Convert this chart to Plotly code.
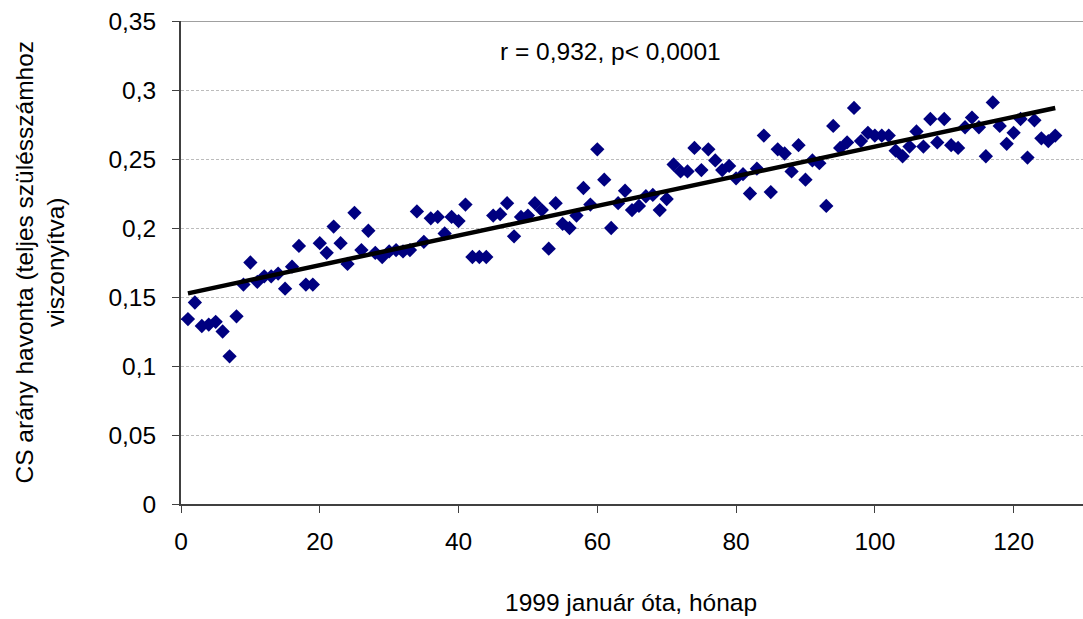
import numpy as np
import plotly.graph_objects as go

# Months elapsed since January 1999
months = list(range(1, 127))

# Monthly caesarean-section rate (share of all deliveries)
cs_rate = [
    0.134, 0.146, 0.129, 0.130, 0.132, 0.125, 0.107, 0.136, 0.159, 0.175,
    0.161, 0.165, 0.165, 0.167, 0.156, 0.172, 0.187, 0.159, 0.159, 0.189,
    0.182, 0.201, 0.189, 0.174, 0.211, 0.184, 0.198, 0.182, 0.179, 0.183,
    0.184, 0.183, 0.184, 0.212, 0.190, 0.207, 0.208, 0.196, 0.208, 0.205,
    0.217, 0.179, 0.179, 0.179, 0.209, 0.210, 0.218, 0.194, 0.208, 0.209,
    0.218, 0.213, 0.185, 0.218, 0.203, 0.200, 0.209, 0.229, 0.217, 0.257,
    0.235, 0.200, 0.218, 0.227, 0.213, 0.216, 0.223, 0.224, 0.213, 0.221,
    0.246, 0.241, 0.241, 0.258, 0.242, 0.257, 0.249, 0.242, 0.245, 0.236,
    0.239, 0.225, 0.243, 0.267, 0.226, 0.257, 0.254, 0.241, 0.260, 0.235,
    0.249, 0.247, 0.216, 0.274, 0.258, 0.262, 0.287, 0.263, 0.269, 0.267,
    0.267, 0.267, 0.256, 0.252, 0.259, 0.270, 0.259, 0.279, 0.262, 0.279,
    0.260, 0.258, 0.273, 0.280, 0.273, 0.252, 0.291, 0.274, 0.261, 0.269,
    0.279, 0.251, 0.278, 0.265, 0.263, 0.267,
]

x_ticks = [0, 20, 40, 60, 80, 100, 120]
y_ticks = [0, 0.05, 0.1, 0.15, 0.2, 0.25, 0.3, 0.35]

stat_label = "r = 0,932, p< 0,0001"
x_title = "1999 január óta, hónap"
y_title = "CS arány havonta (teljes szülésszámhoz<br>viszonyítva)"

# Least-squares linear trend
slope, intercept = np.polyfit(months, cs_rate, 1)
trend_x = [months[0], months[-1]]
trend_y = [intercept + slope * v for v in trend_x]

FONT = "Liberation Sans, Arial, sans-serif"
FS = 24.5

fig = go.Figure()
fig.add_trace(go.Scatter(
    x=months, y=cs_rate, mode="markers",
    marker=dict(symbol="diamond", size=11, color="#000080",
                line=dict(width=0)),
    showlegend=False,
))
fig.add_trace(go.Scatter(
    x=trend_x, y=trend_y, mode="lines",
    line=dict(color="black", width=4.5),
    showlegend=False,
))

# solid top border of the plot area
fig.add_shape(type="line", xref="paper", yref="y", x0=0, x1=1,
              y0=0.35, y1=0.35, line=dict(color="#808080", width=1.5))

text_font = dict(size=FS, color="black", family=FONT)
fig.add_annotation(text=stat_label, xref="paper", yref="paper",
                   x=(610 - 181) / 902, y=(504 - 51) / 483,
                   xanchor="center", yanchor="middle",
                   showarrow=False, font=text_font)
fig.add_annotation(text=x_title, xref="paper", yref="paper",
                   x=(631 - 181) / 902, y=-(602 - 504) / 483,
                   xanchor="center", yanchor="middle",
                   showarrow=False, font=text_font)
fig.add_annotation(text=y_title, xref="paper", yref="paper",
                   x=-(181 - 40) / 902, y=0.5, textangle=-90,
                   xanchor="center", yanchor="middle",
                   showarrow=False, font=text_font)

fig.update_layout(
    width=1083, height=619,
    margin=dict(l=181, r=0, t=21, b=115),
    paper_bgcolor="white", plot_bgcolor="white",
    separators=", ",
    font=dict(family=FONT, size=FS, color="black"),
    xaxis=dict(
        range=[0, 130], tickvals=x_ticks, ticks="outside", ticklen=7,
        tickcolor="#404040", showline=True, linecolor="#404040", linewidth=2,
        showgrid=False, zeroline=False, ticklabelstandoff=8,
    ),
    yaxis=dict(
        range=[0, 0.35], tickvals=y_ticks, ticks="outside", ticklen=7,
        tickcolor="#404040", showline=True, linecolor="#404040", linewidth=2,
        showgrid=True, gridcolor="#bcbcbc", griddash="3px,2px", gridwidth=1,
        zeroline=False, ticklabelstandoff=11,
    ),
)

fig.write_html("out.html")
